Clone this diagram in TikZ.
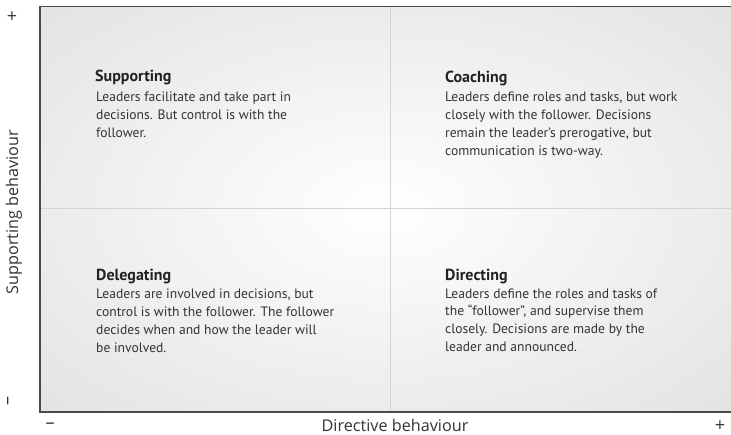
\documentclass[tikz,border=0pt]{standalone}
\usepackage{fontspec}
\setmainfont{PT Sans}
\newfontfamily\axisfont{Open Sans}
\definecolor{panelgray}{HTML}{E3E3E3}
\definecolor{framecol}{HTML}{4A4A4A}
\definecolor{divcol}{HTML}{D4D4D4}
\definecolor{bodycol}{HTML}{333333}
\definecolor{titlecol}{HTML}{222222}
\definecolor{axiscol}{HTML}{333333}
\pgfdeclareradialshading{panelshade}{\pgfpoint{0bp}{0bp}}{color(0bp)=(white); color(35.4bp)=(panelgray); color(50bp)=(panelgray)}
\newcommand{\firstline}{\rule{0pt}{11pt}}
\tikzset{
  axisline/.style={draw=framecol, line width=1.3pt},
  divline/.style={draw=divcol, line width=1pt},
  titletext/.style={anchor=base west, inner sep=0pt, font=\fontsize{16}{18}\selectfont\bfseries, text=titlecol},
  bodytext/.style={anchor=north west, inner sep=0pt, align=left, font=\fontsize{13.6}{17.8}\selectfont, text=bodycol},
  axislabel/.style={anchor=base, inner sep=0pt, font=\axisfont\fontsize{16.2}{18}\selectfont, text=axiscol},
  signlabel/.style={inner sep=0pt, font=\axisfont\fontsize{18}{20}\selectfont, text=axiscol}
}
\begin{document}
\begin{tikzpicture}[x=1pt,y=-1pt]
\useasboundingbox (0,0) rectangle (731,435);
% panel corners
\coordinate (tl) at (40,6.3);
\coordinate (tr) at (731,6.3);
\coordinate (bl) at (40,412);
\coordinate (br) at (731,412);
\coordinate (vt) at (390,6.3);
\coordinate (vb) at (390,412);
\coordinate (hl) at (40,209);
\coordinate (hr) at (731,209);
% background
\fill[shading=panelshade] (tl) rectangle (br);
% dividers
\draw[divline] (vt) -- (vb);
\draw[divline] (hl) -- (hr);
% frame
\draw[axisline] (tr) -- (tl) -- (bl) -- (br);
% quadrant texts
\node[titletext] (suptitle) at (95,82) {Supporting};
\node[bodytext] (supbody) at (96,90.5) {\firstline Leaders facilitate and take part in\\decisions. But control is with the\\follower.};
\node[titletext] (coatitle) at (445,82.5) {Coaching};
\node[bodytext] (coabody) at (445,90.8) {\firstline Leaders define roles and tasks, but work\\closely with the follower. Decisions\\remain the leader’s prerogative, but\\communication is two-way.};
\node[titletext] (deltitle) at (96,281) {Delegating};
\node[bodytext] (delbody) at (96,287.5) {\firstline Leaders are involved in decisions, but\\control is with the follower. The follower\\decides when and how the leader will\\be involved.};
\node[titletext] (dirtitle) at (445,280.5) {Directing};
\node[bodytext] (dirbody) at (445,287) {\firstline Leaders define the roles and tasks of\\the “follower”, and supervise them\\closely. Decisions are made by the\\leader and announced.};
% axis labels
\node[axislabel, rotate=90] (ylab) at (18,212) {Supporting behaviour};
\node[axislabel] (xlab) at (395,431.7) {Directive behaviour};
\node[signlabel] (yplus) at (12,17) {+};
\node[signlabel, rotate=90] (yminus) at (10,401) {–};
\node[signlabel] (xminus) at (50,426) {–};
\node[signlabel] (xplus) at (720,426) {+};
\end{tikzpicture}
\end{document}
